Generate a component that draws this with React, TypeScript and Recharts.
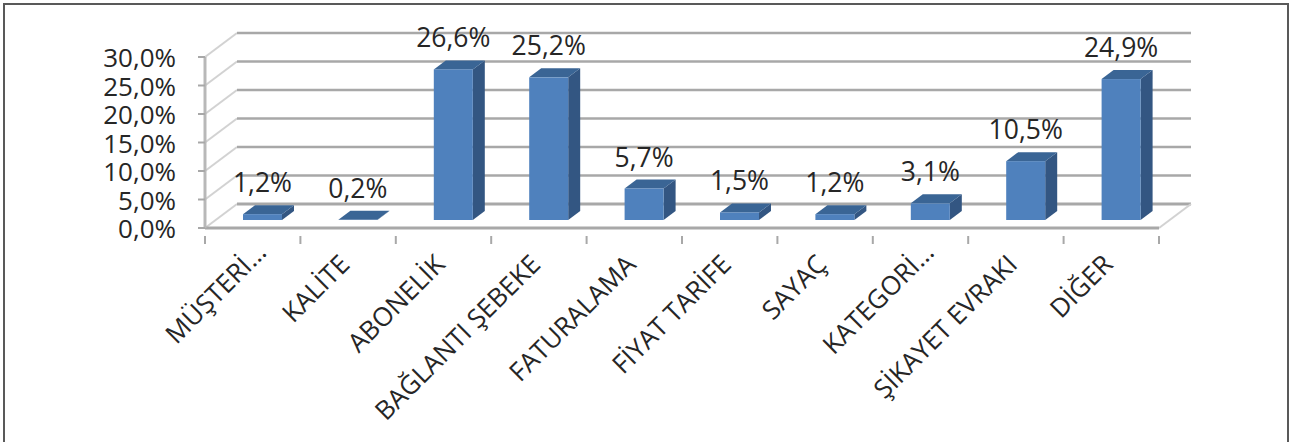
import React from 'react';
import { BarChart, Bar, XAxis, YAxis, CartesianGrid, LabelList } from 'recharts';

const categories = ['MÜŞTERİ…', 'KALİTE', 'ABONELİK', 'BAĞLANTI ŞEBEKE', 'FATURALAMA', 'FİYAT TARİFE', 'SAYAÇ', 'KATEGORİ…', 'ŞİKAYET EVRAKI', 'DİĞER'];
const shares = [1.2, 0.2, 26.6, 25.2, 5.7, 1.5, 1.2, 3.1, 10.5, 24.9];
const yTicks = [0, 5, 10, 15, 20, 25, 30];

const chartData = categories.map((name, i) => ({ name, share: shares[i] }));

const FONT = '"Open Sans", sans-serif';
const WIDTH = 1293;
const HEIGHT = 442;
const PLOT_LEFT = 205;
const PLOT_RIGHT = 1159;
const BAND = (PLOT_RIGHT - PLOT_LEFT) / categories.length;

// 3D look: back wall offset, and how far a bar sits off the front axis
const WALL_DX = 32;
const WALL_DY = -24;
const BAR_DX = 10;
const BAR_DY = -7;
const DEPTH_X = 12;
const DEPTH_Y = -9;

const percent = (v: number) => `${v.toFixed(1).replace('.', ',')}%`;

const WallLine = (props: any) => {
  const { x1, x2, y1 } = props;
  const isFloor = y1 > 200;
  const backY = y1 + WALL_DY;
  return (
    <g key={props.key}>
      <line x1={x1} y1={y1} x2={x1 + WALL_DX} y2={backY} stroke="#d2d2d2" strokeWidth={2} />
      <line x1={x1 + WALL_DX} y1={backY} x2={x2 + WALL_DX} y2={backY} stroke="#a8a8a8" strokeWidth={isFloor ? 3 : 2.5} />
      {isFloor && <line x1={x2} y1={y1} x2={x2 + WALL_DX} y2={backY} stroke="#d2d2d2" strokeWidth={2} />}
    </g>
  );
};

const Bar3D = (props: any) => {
  const { x, y, width, height } = props;
  const left = x + BAR_DX;
  const right = left + width;
  const top = y + BAR_DY;
  const bottom = top + height - 1;
  return (
    <g>
      <polygon
        points={`${right},${top} ${right + DEPTH_X},${top + DEPTH_Y} ${right + DEPTH_X},${bottom + DEPTH_Y} ${right},${bottom}`}
        fill="#335682"
      />
      <polygon
        points={`${left},${top} ${left + DEPTH_X},${top + DEPTH_Y} ${right + DEPTH_X},${top + DEPTH_Y} ${right},${top}`}
        fill="#3a6595"
      />
      <rect x={left} y={top} width={width} height={Math.max(bottom - top, 0)} fill="#4f81bd" />
    </g>
  );
};

const BarValue = (props: any) => {
  const { x, y, width, value } = props;
  return (
    <text
      x={x + width / 2 + BAR_DX}
      y={y + BAR_DY + DEPTH_Y - 13}
      textAnchor="middle"
      fontFamily={FONT}
      fontSize={26.5}
      fill="#262626"
    >
      {percent(value)}
    </text>
  );
};

const CategoryTick = (props: any) => {
  const { x, y, payload, index } = props;
  const edge = x - BAND / 2;
  // truncated names hang further up the slope in the original
  const slide = String(payload.value).endsWith('…') ? 12 : 0;
  return (
    <g>
      <line x1={edge} y1={y} x2={edge} y2={y + 8} stroke="#a8a8a8" strokeWidth={2} />
      {index === categories.length - 1 && (
        <line x1={edge + BAND} y1={y} x2={edge + BAND} y2={y + 8} stroke="#a8a8a8" strokeWidth={2} />
      )}
      <text
        transform={`translate(${x + 3 + slide},${y + 30 - slide}) rotate(-45)`}
        textAnchor="end"
        fontFamily={FONT}
        fontSize={26}
        fill="#262626"
      >
        {payload.value}
      </text>
    </g>
  );
};

export default function App() {
  return (
    <div style={{ position: 'absolute', left: 0, top: 0, width: WIDTH, height: HEIGHT, background: '#fff', overflow: 'hidden' }}>
      {/* frame runs off the bottom of the picture, as in the source crop */}
      <div
        style={{
          position: 'absolute',
          left: 3,
          top: 3,
          width: 1286,
          height: 450,
          boxSizing: 'border-box',
          border: '2px solid #595959',
        }}
      />
      <BarChart
        width={WIDTH}
        height={HEIGHT}
        data={chartData}
        barSize={39}
        margin={{ top: 57, right: WIDTH - PLOT_RIGHT, bottom: 14, left: 0 }}
        style={{ position: 'absolute', left: 0, top: 0 }}
      >
        <CartesianGrid vertical={false} horizontal={WallLine} />
        <XAxis
          dataKey="name"
          height={200}
          interval={0}
          tickLine={false}
          axisLine={{ stroke: '#a8a8a8', strokeWidth: 3 }}
          tick={CategoryTick}
        />
        <YAxis
          width={PLOT_LEFT}
          domain={[0, 30]}
          ticks={yTicks}
          interval={0}
          tickFormatter={percent}
          tickSize={7}
          tickMargin={22}
          axisLine={{ stroke: '#b8b8b8', strokeWidth: 3 }}
          tickLine={{ stroke: '#a8a8a8', strokeWidth: 2 }}
          tick={{ fontFamily: FONT, fontSize: 26, fill: '#262626', dy: 1 }}
        />
        <Bar dataKey="share" isAnimationActive={false} shape={Bar3D}>
          <LabelList dataKey="share" content={BarValue} />
        </Bar>
      </BarChart>
    </div>
  );
}
